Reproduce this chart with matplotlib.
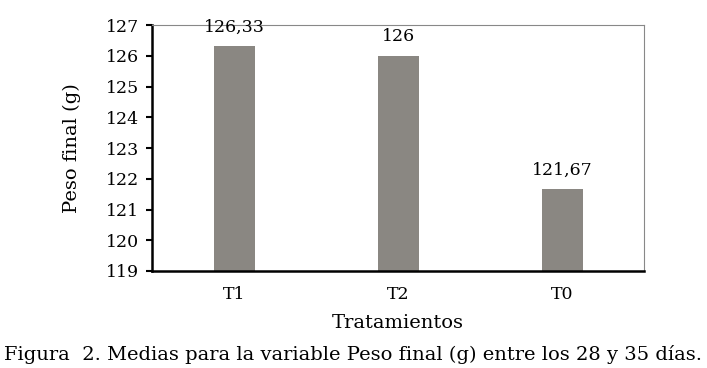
import matplotlib.pyplot as plt

# Data
tratamientos = ["T1", "T2", "T0"]
peso_final = [126.33, 126.0, 121.67]
etiquetas = ["126,33", "126", "121,67"]
y_ticks = list(range(119, 128))

plt.rcParams["font.family"] = ["DejaVu Serif"]

fig = plt.figure(figsize=(7.07, 3.68), dpi=100)
ax = fig.add_axes([0.215, 0.2636, 0.696, 0.668])

x = range(len(tratamientos))
ax.bar(x, [v - 119 for v in peso_final], bottom=119, width=0.25, color="#8a8782")

for xi, v, lab in zip(x, peso_final, etiquetas):
    ax.annotate(lab, (xi, v), xytext=(0, 7.5), textcoords="offset points",
                ha="center", va="bottom", fontsize=12.5)

ax.set_xlim(-0.5, 2.5)
ax.set_ylim(119, 127)
ax.set_yticks(y_ticks)
ax.set_xticks(list(x))
ax.set_xticklabels(tratamientos)
ax.tick_params(axis="y", labelsize=12.5, length=4, width=1.5, direction="out", pad=5)
ax.tick_params(axis="x", labelsize=12.5, length=0, pad=11)

for side in ["left", "bottom"]:
    ax.spines[side].set_linewidth(1.8)
    ax.spines[side].set_color("black")
for side in ["top", "right"]:
    ax.spines[side].set_linewidth(0.8)
    ax.spines[side].set_color("#888888")

ax.set_ylabel("Peso final (g)", fontsize=14, labelpad=18)
ax.set_xlabel("Tratamientos", fontsize=14, labelpad=8)

fig.text(0.006, 0.022, "Figura  2. Medias para la variable Peso final (g) entre los 28 y 35 días.",
         fontsize=14, ha="left", va="baseline")

fig.savefig("out.png", dpi=100)
